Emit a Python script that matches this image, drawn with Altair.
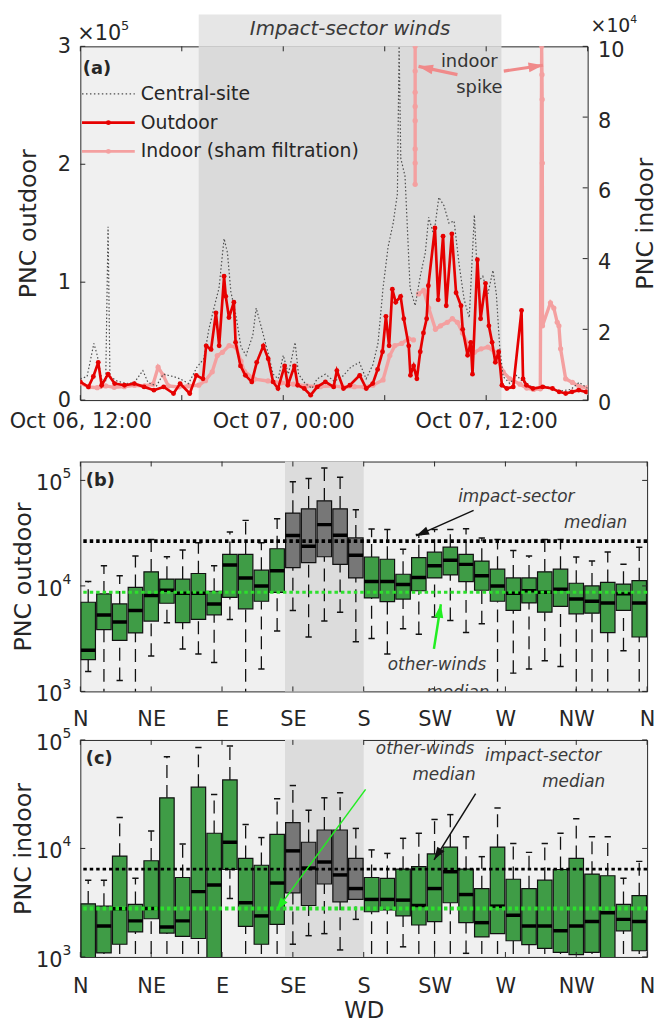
import math
import altair as alt
import pandas as pd

# ---------------- Panel (a): time series ----------------
# hours after Oct 06 12:00 ; PNC in thousands (#/cm3)
out_hours = [0, 0.48, 0.77, 1.06, 1.26, 1.64, 2.03, 2.61, 3.19, 3.77,
             4.35, 4.93, 5.51, 5.9, 6.47, 6.86, 7.25, 7.44, 7.73, 8.02,
             8.21, 8.5, 8.6, 8.79, 9.08, 9.18, 9.47, 9.76, 10.14, 10.43,
             10.82, 11.11, 11.4, 11.69, 12.08, 12.27, 12.66, 12.85, 13.24, 13.62,
             14.01, 14.49, 14.98, 15.17, 15.56, 15.94, 16.52, 16.91, 17.29, 17.58,
             17.87, 18.07, 18.26, 18.45, 18.65, 18.94, 19.13, 19.42, 19.52, 19.71,
             19.9, 20.1, 20.29, 20.48, 20.58, 20.97, 21.16, 21.45, 21.64, 21.97,
             22.22, 22.51, 22.61, 22.9, 23.09, 23.19, 23.48, 23.67, 23.96, 24.16,
             24.35, 24.54, 24.74, 24.93, 25.22, 25.6, 26.09, 26.18, 26.38, 26.76,
             27.34, 27.92, 28.31, 28.7, 29.08, 29.47, 29.9]
out_pnc_k = [15.4, 11.2, 20, 32, 12.6, 22, 14, 12.6, 14, 11.2,
             8.4, 11.2, 5.6, 14, 5.6, 21, 18, 46, 43, 74,
             46, 105, 88, 70, 83, 49, 29, 21, 15.4, 32,
             46, 35, 15.4, 9.8, 29, 12.6, 29, 12.6, 9.8, 4.2,
             11.2, 15.4, 11.2, 25, 9.8, 12.6, 21, 9.8, 14, 26,
             41, 71, 46, 94, 83, 88, 69, 46, 21, 29,
             18, 41, 57, 69, 97, 146, 85, 139, 80, 141,
             91, 80, 60, 38, 49, 22, 119, 69, 99, 63,
             49, 32, 41, 12.6, 9.8, 11.2, 76, 18, 12.6, 9.8,
             11.2, 9.8, 7, 5.6, 7, 8.4, 7]

cen_hours = [0.0, 0.4, 0.8, 1.0, 1.3, 1.5, 1.64, 1.75, 2.2, 2.7,
             3.2, 3.7, 4.0, 4.5, 4.9, 5.5, 5.9, 6.4, 6.9, 7.3,
             7.6, 7.9, 8.2, 8.5, 8.7, 8.9, 9.2, 9.5, 9.8, 10.2,
             10.4, 10.7, 11.1, 11.4, 11.7, 12.0, 12.3, 12.7, 12.9, 13.3,
             13.7, 14.0, 14.5, 15.0, 15.5, 16.0, 16.5, 16.9, 17.3, 17.6,
             17.9, 18.2, 18.5, 18.75, 18.85, 18.95, 19.2, 19.5, 19.8, 20.1,
             20.4, 20.6, 20.9, 21.2, 21.5, 21.8, 22.1, 22.4, 22.7, 23.0,
             23.3, 23.5, 23.8, 24.1, 24.4, 24.6, 24.8, 25.0, 25.4, 25.8,
             26.2, 26.6, 27.0, 27.5, 28.0, 28.5, 29.0, 29.5, 30.0]
cen_pnc_k = [18, 20, 48, 38, 15, 16, 147, 20, 16, 14,
             15, 25, 15, 12, 22, 20, 18, 14, 28, 35,
             60, 78, 95, 137, 125, 92, 72, 45, 38, 55,
             78, 62, 40, 22, 18, 38, 22, 49, 22, 14,
             10, 18, 22, 16, 20, 28, 32, 18, 30, 48,
             95, 130, 150, 175, 300, 205, 190, 95, 80, 105,
             125, 155, 140, 172, 165, 150, 152, 115, 85, 70,
             157, 100, 105, 90, 110, 90, 45, 20, 14, 21,
             15, 12, 10, 12, 9, 8, 9, 15, 10]

ind_hours_1 = [0.0, 0.5, 1.0, 1.5, 2.0, 2.6, 3.2, 3.8, 4.3, 4.6,
               4.9, 5.2, 5.8, 6.4, 7.0, 7.4, 7.8, 8.1, 8.4, 8.8,
               9.2, 9.5, 9.7, 10.3, 11.1, 11.9, 12.6, 13.4, 14.2, 15.0,
               15.6, 16.2, 16.8, 17.3, 17.9, 18.3, 18.6, 19.0, 19.4, 19.7]
ind_pnc_k_1 = [4.8, 3.7, 3.5, 4.0, 3.6, 3.8, 4.2, 4.0, 4.5, 9.3,
               7.0, 4.0, 3.7, 4.0, 4.2, 5.5, 8.0, 12.6, 13.5, 15.4,
               15.0, 11.0, 8.1, 5.9, 5.4, 4.9, 4.5, 4.0, 3.8, 4.0,
               3.6, 3.8, 3.7, 4.2, 5.7, 12.6, 15.4, 16.0, 17.4, 17.0]
ind_hours_spike = [19.8, 19.8, 19.8, 19.8, 19.8, 19.8, 19.8, 19.8]
ind_pnc_k_spike = [100, 93, 87, 83, 79, 71, 67, 61]
ind_hours_2 = [20.0, 20.3, 20.6, 21.0, 21.3, 21.7, 22.0, 22.3, 22.6, 23.0,
               23.3, 23.7, 24.1, 24.5, 25.0, 25.4, 26.0, 26.4, 26.8, 27.2,
               27.28, 27.3, 27.31, 27.32, 27.33, 27.8, 28.0, 28.2, 28.3, 28.4,
               28.7, 29.1, 29.5, 30.0]
ind_pnc_k_2 = [30, 31, 26, 20, 21, 22, 23, 22, 19, 15,
               13.5, 14.5, 15, 13.5, 8, 6, 4.5, 3.4, 3.0, 3.2,
               100, 92, 85, 67, 21, 27.5, 26, 22, 21, 14.5,
               6, 5, 3.8, 3.5]

impact_hours = [7.0, 24.9]
time_ticks = [0, 6, 12, 18, 24, 30]
time_label_hours = [0, 12, 24]
time_labels = ['Oct 06, 12:00', 'Oct 07, 00:00', 'Oct 07, 12:00']
left_ticks = [0, 100000, 200000, 300000]
right_ticks = [0, 20000, 40000, 60000, 80000, 100000]

# ---------------- Panels (b), (c): box plots by wind direction ----------------
wd_centers = [5, 15, 25, 35, 45, 55, 65, 75, 85, 95, 105, 115, 125, 135, 145, 155, 165, 175,
              185, 195, 205, 215, 225, 235, 245, 255, 265, 275, 285, 295, 305, 315, 325, 335, 345, 355]
impact_bins = [135, 145, 155, 165, 175]
impact_sector_deg = [130, 180]
wd_ticks = [0, 45, 90, 135, 180, 225, 270, 315, 360]
wd_labels = ['N', 'NE', 'E', 'SE', 'S', 'SW', 'W', 'NW', 'N']

b_hi = [11000, 15500, 12500, 19200, 27500, 18900, 21900, 25600, 15500, 32500,
        41800, 25600, 43400, 97000, 104000, 131000, 107000, 52700, 34700, 34200,
        22200, 30700, 34200, 34200, 34900, 28500, 27500, 21700, 19200, 27500,
        27500, 18800, 17200, 21000, 16000, 23300]
b_q3 = [7000, 8400, 6750, 9700, 13600, 11600, 11600, 13100, 8900, 19900,
        19900, 14100, 22500, 49000, 53800, 64000, 53800, 28500, 18800, 17900,
        12900, 18500, 20900, 23300, 19900, 17200, 14400, 11900, 11900, 13600,
        14400, 10600, 10000, 10800, 10400, 11200]
b_med = [2460, 5300, 4540, 5850, 8100, 9100, 8500, 8500, 6750, 15800,
         11900, 10000, 13900, 30000, 23800, 38100, 30200, 19500, 11000, 11000,
         10300, 12000, 15500, 17500, 16000, 12500, 10000, 8500, 9000, 8700,
         9300, 7500, 7150, 6900, 8400, 6900]
b_q1 = [2000, 3850, 3050, 3580, 4640, 6850, 4480, 4810, 5320, 7800,
        6060, 7150, 8700, 14900, 16600, 18900, 16000, 11900, 7700, 7100,
        7500, 9000, 11900, 12700, 11000, 9100, 7150, 5850, 6900, 5640,
        6400, 5440, 5520, 3610, 5850, 3280]
b_lo = [1540, 800, 1270, 800, 2160, 4480, 2520, 2260, 1880, 4810,
        800, 1630, 3740, 5850, 3280, 4640, 5640, 2950, 3170, 2260,
        3930, 3480, 5060, 4710, 3610, 4380, 800, 1490, 1630, 1950,
        1720, 800, 800, 800, 2430, 800]
b_impact_median = 26600
b_other_median = 8700

c_hi = [5100, 5100, 19300, 5300, 14500, 70000, 11000, 85000, 31500, 88000,
        16600, 12600, 28700, 38000, 22500, 29300, 32600, 15300, 9700, 9000,
        12400, 13800, 18500, 20500, 12800, 8400, 23600, 11100, 9200, 11100,
        13800, 18800, 12800, 12800, 5300, 7600]
c_q3 = [3090, 2940, 8500, 3050, 7700, 29300, 5400, 36700, 13800, 42800,
        8100, 7000, 13500, 17300, 11400, 14800, 14800, 8100, 5400, 5300,
        6450, 6800, 8900, 10300, 6450, 4270, 10300, 5200, 4270, 5100,
        6400, 8100, 5800, 5600, 3050, 3680]
c_med = [950, 1930, 2780, 2150, 2800, 1890, 2150, 4000, 4600, 11400,
         3160, 2390, 4800, 9500, 6600, 7500, 5700, 4270, 3390, 3390,
         3340, 2980, 4270, 6100, 3760, 2070, 2940, 2420, 1930, 1930,
         1740, 1930, 2120, 2560, 2220, 2120]
c_q1 = [800, 1090, 1310, 1700, 2250, 1660, 1550, 1480, 600, 6400,
        1910, 1310, 2000, 3900, 2980, 4700, 3220, 3390, 2610, 2710,
        2390, 1970, 2120, 3160, 2070, 1530, 1640, 1410, 1300, 1200,
        1100, 1050, 1100, 800, 1740, 1140]
c_lo = [600, 700, 700, 700, 700, 700, 700, 700, 500, 3460,
        700, 700, 700, 1310, 1570, 1640, 1160, 2220, 700, 700,
        1240, 700, 700, 700, 1080, 700, 700, 700, 700, 700,
        700, 700, 700, 600, 700, 700]
c_impact_median = 6450
c_other_median = 2800

# ---------------- style ----------------
FONT = 'DejaVu Sans'
INK = '#262626'
RED = '#e60000'
PINK = '#f4a0a0'
GREEN_BOX = '#3f9c46'
GRAY_BOX = '#777777'
BRIGHT_GREEN = '#2de02d'
NOTE = '#3a3a3a'
ARROW = 'M0,0L-0.5,1.5L0.5,1.5Z'

A_W, A_H = 512, 357
B_W, B_H = 572, 232
C_W, C_H = 572, 219
B_DOM = [1000, 151000]
C_DOM = [1000, 100000]


def ang(x0, y0, x1, y1):
    return math.degrees(math.atan2(x1 - x0, -(y1 - y0))) % 360


def pa(h, v):
    return h / 30 * A_W, A_H * (1 - v / 300000)


def plog(d, v, W, H, dom):
    lo, hi = math.log10(dom[0]), math.log10(dom[1])
    return d / 360 * W, H * (1 - (math.log10(v) - lo) / (hi - lo))


# ================= Panel (a) =================
xA = alt.Scale(domain=[0, 30], nice=False, zero=False)
yL = alt.Scale(domain=[0, 300000], nice=False, zero=False)
yR = alt.Scale(domain=[0, 100000], nice=False, zero=False)

t_expr = ' : '.join(f"datum.value == {h} ? '{l}'" for h, l in zip(time_label_hours, time_labels)) + " : ''"
x_axis_a = alt.Axis(values=time_ticks, labelExpr=t_expr, title=None, ticks=False, domain=False,
                    grid=False, labelFlush=False, labelOverlap=False, labelPadding=11, labelFontSize=21)
yL_axis = alt.Axis(values=left_ticks, labelExpr="format(datum.value/100000,'d')", title='PNC outdoor',
                   ticks=False, domain=False, grid=False, labelPadding=10, labelFontSize=21,
                   titleFontSize=24, titleFontWeight='normal', titleX=-52, titleY=A_H / 2,
                   titleBaseline='middle', titleAlign='center')
yR_axis = alt.Axis(orient='right', values=right_ticks, labelExpr="format(datum.value/10000,'d')",
                   title='PNC indoor', ticks=False, domain=False, grid=False, labelPadding=10,
                   labelOffset=4, labelFontSize=21, titleFontSize=24, titleFontWeight='normal',
                   titleAngle=270, titleX=58, titleY=A_H / 2, titleBaseline='middle', titleAlign='center')


def XA(f):
    return alt.X(f, scale=xA, axis=x_axis_a)


def YL1(f):
    return alt.Y(f, scale=yL, axis=yL_axis)


def YR(f):
    return alt.Y(f, scale=yR, axis=yR_axis)


def YL3(f):
    return alt.Y(f, scale=yL, axis=None)


band_in = alt.Chart(pd.DataFrame({'h0': [impact_hours[0]], 'h1': [impact_hours[1]],
                                  'v0': [0], 'v1': [300000]})).mark_rect(color='#dadada').encode(
    x=XA('h0:Q'), x2='h1:Q', y=YL1('v0:Q'), y2='v1:Q')
band_top = alt.Chart(pd.DataFrame({'h0': [impact_hours[0]], 'h1': [impact_hours[1]],
                                   'v0': [300000], 'v1': [327000]})).mark_rect(color='#e6e6e6').encode(
    x=XA('h0:Q'), x2='h1:Q', y=YL1('v0:Q'), y2='v1:Q')
band_text = alt.Chart(pd.DataFrame({'h': [sum(impact_hours) / 2], 'v': [315000],
                                    't': ['Impact-sector winds']})).mark_text(
    font=FONT, fontSize=20, fontStyle='italic', color=NOTE, baseline='middle').encode(
    x=XA('h:Q'), y=YL1('v:Q'), text='t:N')
tick_df_a = pd.DataFrame({'t': time_ticks})
ticks_a_bot = alt.Chart(tick_df_a).mark_rule(color=INK).encode(
    x=XA('t:Q'), y=alt.value(A_H), y2=alt.value(A_H - 5))
ticks_a_top = alt.Chart(tick_df_a).mark_rule(color=INK).encode(
    x=XA('t:Q'), y=alt.value(0), y2=alt.value(5))
ticks_a_left = alt.Chart(pd.DataFrame({'v': left_ticks})).mark_rule(color=INK).encode(
    y=YL1('v:Q'), x=alt.value(0), x2=alt.value(5))
child1 = alt.layer(band_in, band_top, band_text, ticks_a_bot, ticks_a_top, ticks_a_left)

ind_df = pd.concat([
    pd.DataFrame({'h': ind_hours_1, 'v': [k * 1000 for k in ind_pnc_k_1], 'seg': 'a'}),
    pd.DataFrame({'h': ind_hours_spike, 'v': [k * 1000 for k in ind_pnc_k_spike], 'seg': 'b'}),
    pd.DataFrame({'h': ind_hours_2, 'v': [k * 1000 for k in ind_pnc_k_2], 'seg': 'c'}),
], ignore_index=True)
ind_df['i'] = range(len(ind_df))
ind_line = alt.Chart(ind_df).mark_line(color=PINK, strokeWidth=3.4, clip=True).encode(
    x=XA('h:Q'), y=YR('v:Q'), detail='seg:N', order='i:Q')
ind_pts = alt.Chart(ind_df).mark_circle(color=PINK, size=28, opacity=1, clip=True).encode(
    x=XA('h:Q'), y=YR('v:Q'))
ticks_a_right = alt.Chart(pd.DataFrame({'v': right_ticks})).mark_rule(color=INK).encode(
    y=YR('v:Q'), x=alt.value(A_W - 5), x2=alt.value(A_W))
child2 = alt.layer(ind_line, ind_pts, ticks_a_right)

cen_df = pd.DataFrame({'h': cen_hours, 'v': [k * 1000 for k in cen_pnc_k]})
out_df = pd.DataFrame({'h': out_hours, 'v': [k * 1000 for k in out_pnc_k]})
cen_line = alt.Chart(cen_df).mark_line(color='#4d4d4d', strokeWidth=1.2, strokeDash=[1.5, 2.2],
                                       clip=True).encode(x=XA('h:Q'), y=YL3('v:Q'))
out_line = alt.Chart(out_df).mark_line(color=RED, strokeWidth=2.7, clip=True).encode(
    x=XA('h:Q'), y=YL3('v:Q'))
out_pts = alt.Chart(out_df).mark_circle(color=RED, size=24, opacity=1, clip=True).encode(
    x=XA('h:Q'), y=YL3('v:Q'))

# legend (drawn)
leg_names = ['Central-site', 'Outdoor', 'Indoor (sham filtration)']
leg_v = [259700, 235300, 210900]
leg_h = [0.1, 3.22]
leg_text_h = 3.57
leg_marker_h = 1.66


def leg_line(i, **kw):
    return alt.Chart(pd.DataFrame({'a': [leg_h[0]], 'b': [leg_h[1]], 'v': [leg_v[i]]})).mark_rule(**kw).encode(
        x=XA('a:Q'), x2='b:Q', y=YL3('v:Q'))


def leg_dot(i, col):
    return alt.Chart(pd.DataFrame({'h': [leg_marker_h], 'v': [leg_v[i]]})).mark_circle(
        size=24, opacity=1, color=col).encode(x=XA('h:Q'), y=YL3('v:Q'))


leg1 = leg_line(0, color='#4d4d4d', strokeWidth=1.2, strokeDash=[1.5, 2.5])
leg2 = leg_line(1, color=RED, strokeWidth=2.6)
leg3 = leg_line(2, color=PINK, strokeWidth=2.6)
leg2d = leg_dot(1, RED)
leg3d = leg_dot(2, PINK)
leg_text = alt.Chart(pd.DataFrame({'h': [leg_text_h] * 3, 'v': leg_v, 't': leg_names})).mark_text(
    font=FONT, fontSize=19, align='left', baseline='middle', color=INK).encode(
    x=XA('h:Q'), y=YL3('v:Q'), text='t:N')

panel_a_label = alt.Chart(pd.DataFrame({'h': [0.15], 'v': [281000], 't': ['(a)']})).mark_text(
    font=FONT, fontSize=18, fontWeight='bold', align='left', baseline='middle', color=INK).encode(
    x=XA('h:Q'), y=YL3('v:Q'), text='t:N')

# multipliers
mult_df = pd.DataFrame({'t': ['\u00d710']})
exp5_df = pd.DataFrame({'t': ['5']})
exp4_df = pd.DataFrame({'t': ['4']})
mult_l = alt.Chart(mult_df).mark_text(font=FONT, fontSize=21, align='left', baseline='middle', color=INK).encode(
    x=alt.value(-3), y=alt.value(-12), text='t:N')
exp_l = alt.Chart(exp5_df).mark_text(font=FONT, fontSize=13, align='left', baseline='middle', color=INK).encode(
    x=alt.value(41), y=alt.value(-21), text='t:N')
mult_r = alt.Chart(mult_df).mark_text(font=FONT, fontSize=19, align='left', baseline='middle', color=INK).encode(
    x=alt.value(A_W + 3), y=alt.value(-20), text='t:N')
exp_r = alt.Chart(exp4_df).mark_text(font=FONT, fontSize=11, align='left', baseline='middle', color=INK).encode(
    x=alt.value(A_W + 43), y=alt.value(-27), text='t:N')

# indoor spike annotation
spike_text = alt.Chart(pd.DataFrame({'h': [23.0, 23.6], 'v': [287000, 265000],
                                     't': ['indoor', 'spike']})).mark_text(
    font=FONT, fontSize=18, color='#333333', baseline='middle').encode(
    x=XA('h:Q'), y=YL3('v:Q'), text='t:N')
sp_tail = [(22.3, 276000), (25.04, 279000)]
sp_head = [(20.0, 283000), (27.36, 284000)]
sp_rows = []
for (ht, vt), (hh, vh) in zip(sp_tail, sp_head):
    x0, y0 = pa(ht, vt)
    x1, y1 = pa(hh, vh)
    sp_rows.append({'ht': ht, 'vt': vt, 'hh': hh, 'vh': vh, 'ang': ang(x0, y0, x1, y1)})
sp_df = pd.DataFrame(sp_rows)
sp_lines = alt.Chart(sp_df).mark_rule(color='#f08a8a', strokeWidth=3.2).encode(
    x=XA('ht:Q'), y=YL3('vt:Q'), x2='hh:Q', y2='vh:Q')
sp_heads = alt.Chart(sp_df).mark_point(shape=ARROW, filled=True, opacity=1, color='#f08a8a', size=380).encode(
    x=XA('hh:Q'), y=YL3('vh:Q'), angle=alt.Angle('ang:Q', scale=None))

spacer_a = alt.Chart(pd.DataFrame({'k': [0]})).mark_rule(color='white', strokeWidth=1).encode(
    x=alt.value(0), x2=alt.value(1), y=alt.value(A_H + 61))

child3 = alt.layer(cen_line, out_line, out_pts, leg1, leg2, leg3, leg2d, leg3d, leg_text, panel_a_label,
                   mult_l, exp_l, mult_r, exp_r, spike_text, sp_lines, sp_heads, spacer_a)

panel_a = alt.layer(child1, child2, child3).resolve_scale(y='independent').properties(width=A_W, height=A_H)

# ================= Panels (b), (c) =================
wd_expr = '[' + ','.join(f"'{l}'" for l in wd_labels) + '][round(datum.value/45)]'


def box_df(lo, q1, med, q3, hi):
    return pd.DataFrame({
        'wd': wd_centers, 'lo': lo, 'q1': q1, 'med': med, 'q3': q3, 'hi': hi,
        'x0': [w - 4.6 for w in wd_centers], 'x1': [w + 4.6 for w in wd_centers],
        'c0': [w - 2.0 for w in wd_centers], 'c1': [w + 2.0 for w in wd_centers],
        'kind': ['impact' if w in impact_bins else 'other' for w in wd_centers]})


def box_panel(df, dom, W, H, ytitle, xtitle, lab_pad, imp_med, oth_med, imp_w, oth_w, notes, arrows,
              label_txt, label_v):
    xs = alt.Scale(domain=[0, 360], nice=False, zero=False)
    ys = alt.Scale(type='log', domain=dom, nice=False)
    xkw = dict(values=wd_ticks, labelExpr=wd_expr, ticks=False, domain=False, grid=False,
               labelFlush=False, labelOverlap=False, labelPadding=lab_pad, labelFontSize=21)
    if xtitle:
        xax = alt.Axis(title=xtitle, titleFontSize=23, titleFontWeight='normal', titlePadding=3, **xkw)
    else:
        xax = alt.Axis(title=None, **xkw)
    yax = alt.Axis(values=[1000, 10000, 100000], labels=False, ticks=False, domain=False, grid=False,
                   title=ytitle, titleFontSize=24, titleFontWeight='normal', titleX=-57, titleY=H / 2,
                   titleBaseline='middle', titleAlign='center')

    def X(f):
        return alt.X(f, scale=xs, axis=xax)

    def Y(f):
        return alt.Y(f, scale=ys, axis=yax)

    band = alt.Chart(pd.DataFrame({'a': [impact_sector_deg[0]], 'b': [impact_sector_deg[1]],
                                   'y0': [dom[0]], 'y1': [dom[1]]})).mark_rect(color='#dcdcdc').encode(
        x=X('a:Q'), x2='b:Q', y=Y('y0:Q'), y2='y1:Q')
    base = alt.Chart(df)
    wkw = dict(clip=True, color='#111111', strokeWidth=1.3, strokeDash=[13, 7])
    wl = base.mark_rule(**wkw).encode(x=X('wd:Q'), y=Y('lo:Q'), y2='q1:Q')
    wu = base.mark_rule(**wkw).encode(x=X('wd:Q'), y=Y('q3:Q'), y2='hi:Q')
    cap_hi = base.mark_rule(clip=True, color='#111111', strokeWidth=1.5).encode(
        x=X('c0:Q'), x2='c1:Q', y=Y('hi:Q'))
    cap_lo = base.mark_rule(clip=True, color='#111111', strokeWidth=1.5).encode(
        x=X('c0:Q'), x2='c1:Q', y=Y('lo:Q'))
    boxes = base.mark_rect(clip=True, stroke='#111111', strokeWidth=1.2, opacity=1).encode(
        x=X('x0:Q'), x2='x1:Q', y=Y('q1:Q'), y2='q3:Q',
        fill=alt.Fill('kind:N', scale=alt.Scale(domain=['other', 'impact'], range=[GREEN_BOX, GRAY_BOX]),
                      legend=None))
    meds = base.mark_rule(clip=True, color='#000000', strokeWidth=3.5).encode(
        x=X('x0:Q'), x2='x1:Q', y=Y('med:Q'))
    ref_imp = alt.Chart(pd.DataFrame({'v': [imp_med]})).mark_rule(
        color='#000000', strokeWidth=imp_w, strokeDash=[3.5, 3]).encode(y=Y('v:Q'))
    ref_oth = alt.Chart(pd.DataFrame({'v': [oth_med]})).mark_rule(
        color=BRIGHT_GREEN, strokeWidth=oth_w, strokeDash=[3.5, 3]).encode(y=Y('v:Q'))

    tdf = pd.DataFrame({'t': wd_ticks})
    ydec = pd.DataFrame({'v': [1000, 10000, 100000], 'b': ['10', '10', '10'], 'e': ['3', '4', '5']})
    tk_bot = alt.Chart(tdf).mark_rule(color=INK).encode(x=X('t:Q'), y=alt.value(H), y2=alt.value(H - 5))
    tk_top = alt.Chart(tdf).mark_rule(color=INK).encode(x=X('t:Q'), y=alt.value(0), y2=alt.value(5))
    tk_l = alt.Chart(ydec).mark_rule(color=INK).encode(y=Y('v:Q'), x=alt.value(0), x2=alt.value(5))
    tk_r = alt.Chart(ydec).mark_rule(color=INK).encode(y=Y('v:Q'), x=alt.value(W - 5), x2=alt.value(W))
    lab_b = alt.Chart(ydec).mark_text(font=FONT, fontSize=21, align='right', baseline='middle', dy=4,
                                      color=INK).encode(x=alt.value(-18), y=Y('v:Q'), text='b:N')
    lab_e = alt.Chart(ydec).mark_text(font=FONT, fontSize=14, align='left', baseline='middle', dy=-6,
                                      color=INK).encode(x=alt.value(-18), y=Y('v:Q'), text='e:N')
    # keeps the rotated y title clear of the page edge
    edge = alt.Chart(pd.DataFrame({'k': [0]})).mark_rule(color='white', strokeWidth=1).encode(
        x=alt.value(-72), x2=alt.value(-71), y=alt.value(H / 2))

    plab = alt.Chart(pd.DataFrame({'d': [3.5], 'v': [label_v], 't': [label_txt]})).mark_text(
        font=FONT, fontSize=18, fontWeight='bold', align='left', baseline='middle', color=INK).encode(
        x=X('d:Q'), y=Y('v:Q'), text='t:N')
    note_df = pd.DataFrame(notes, columns=['d', 'v', 't'])
    note = alt.Chart(note_df).mark_text(font=FONT, fontSize=17, fontStyle='italic', color=NOTE,
                                        baseline='middle', clip=True).encode(
        x=X('d:Q'), y=Y('v:Q'), text='t:N')

    layers = [band, wl, wu, cap_hi, cap_lo, boxes, meds, ref_imp, ref_oth,
              tk_bot, tk_top, tk_l, tk_r, lab_b, lab_e, edge, plab, note]
    for (dt, vt, dh, vh, col, sw, hs) in arrows:
        x0, y0 = plog(dt, vt, W, H, dom)
        x1, y1 = plog(dh, vh, W, H, dom)
        adf = pd.DataFrame({'dt': [dt], 'vt': [vt], 'dh': [dh], 'vh': [vh], 'ang': [ang(x0, y0, x1, y1)]})
        layers.append(alt.Chart(adf).mark_rule(color=col, strokeWidth=sw).encode(
            x=X('dt:Q'), y=Y('vt:Q'), x2='dh:Q', y2='vh:Q'))
        layers.append(alt.Chart(adf).mark_point(shape=ARROW, filled=True, opacity=1, color=col, size=hs).encode(
            x=X('dh:Q'), y=Y('vh:Q'), angle=alt.Angle('ang:Q', scale=None)))
    return alt.layer(*layers).properties(width=W, height=H)


b_notes = [(276.9, 69000, 'impact-sector'), (327.3, 39500, 'median'),
           (226.6, 1790, 'other-winds'), (239.8, 955, 'median')]
b_arrows = [(249.8, 52000, 213.3, 29800, '#111111', 1.5, 300),
            (224.6, 2530, 229.0, 6700, '#22ee22', 2.5, 330)]
c_notes = [(219.0, 83000, 'other-winds'), (231.0, 47000, 'median'),
           (293.9, 71000, 'impact-sector'), (313.4, 40500, 'median')]
c_arrows = [(251.1, 32000, 224.7, 7850, '#111111', 1.5, 300),
            (181.2, 35000, 124.6, 2690, '#22ee22', 1.5, 300)]

panel_b = box_panel(box_df(b_lo, b_q1, b_med, b_q3, b_hi), B_DOM, B_W, B_H, 'PNC outdoor', None, 17,
                    b_impact_median, b_other_median, 3.8, 3.2, b_notes, b_arrows, '(b)', 98000)
panel_c = box_panel(box_df(c_lo, c_q1, c_med, c_q3, c_hi), C_DOM, C_W, C_H, 'PNC indoor', 'WD', 19,
                    c_impact_median, c_other_median, 2.8, 4.0, c_notes, c_arrows, '(c)', 66000)

chart = alt.vconcat(panel_a, panel_b, panel_c, spacing=-4).resolve_scale(fill='independent').properties(
    padding=0, background='white'
).configure(font=FONT).configure_axis(
    labelFont=FONT, titleFont=FONT, labelColor=INK, titleColor=INK
).configure_view(fill='#f0f0f0', stroke=INK, strokeWidth=1)

chart.save('out.html', embed_options={'renderer': 'svg', 'actions': False})
